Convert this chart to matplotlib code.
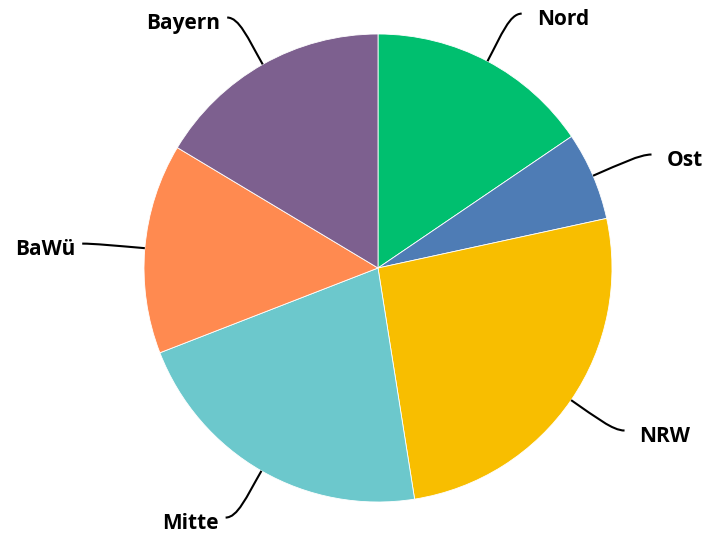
import numpy as np
import matplotlib.pyplot as plt
from matplotlib.path import Path
from matplotlib.patches import PathPatch

# regions and their shares
labels = ['Nord', 'Ost', 'NRW', 'Mitte', 'BaWü', 'Bayern']
values = [15.5, 6.1, 25.9, 21.6, 14.5, 16.4]
colors = ['#00bf6f', '#4e7cb5', '#f8be00', '#6cc8cc', '#ff8a50', '#7d608f']

W, H = 704, 536
fig = plt.figure(figsize=(W / 100, H / 100), dpi=100)
ax = fig.add_axes([0, 0, 1, 1])

cx, cy, r = 378, 268, 234
wedges, _ = ax.pie(values, colors=colors, startangle=90, counterclock=False,
                   center=(cx, cy), radius=r, frame=True,
                   wedgeprops=dict(edgecolor='white', linewidth=0.6))
ax.set_xlim(0, W)
ax.set_ylim(0, H)
ax.set_aspect('equal')
ax.axis('off')

# curved leader lines + labels
for w, lab in zip(wedges, labels):
    a = np.deg2rad((w.theta1 + w.theta2) / 2)
    ux, uy = np.cos(a), np.sin(a)
    side = 1 if ux >= 0 else -1
    p0 = (cx + r * ux, cy + r * uy)
    p1 = (cx + 1.13 * r * ux, cy + 1.13 * r * uy)
    mid = (cx + 1.23 * r * ux, cy + 1.23 * r * uy)
    p3 = (mid[0] + side * 9, mid[1])
    p2 = (p3[0] - side * 12, p3[1])
    path = Path([p0, p1, p2, p3], [Path.MOVETO, Path.CURVE4, Path.CURVE4, Path.CURVE4])
    ax.add_patch(PathPatch(path, fill=False, edgecolor='black', lw=1.5))
    gap = 15 if side > 0 else 7
    ax.text(p3[0] + side * gap, p3[1] - 6, lab, ha='left' if side > 0 else 'right',
            va='center', fontsize=15, fontweight='bold', family='Open Sans')

fig.savefig('out.png', dpi=100)
